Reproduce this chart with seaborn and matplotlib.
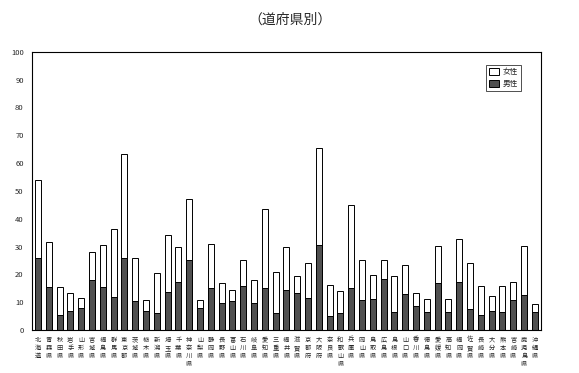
import matplotlib
matplotlib.use("Agg")
import matplotlib.pyplot as plt
import seaborn as sns
import pandas as pd
import numpy as np

# 都道府県（グラフの並び順）
prefectures = [
    "北海道", "青森県", "秋田県", "岩手県", "山形県", "宮城県", "福島県", "群馬県",
    "東京都", "茨城県", "栃木県", "新潟県", "埼玉県", "千葉県", "神奈川県", "山梨県",
    "静岡県", "長野県", "富山県", "石川県", "岐阜県", "愛知県", "三重県", "福井県",
    "滋賀県", "京都府", "大阪府", "奈良県", "和歌山県", "兵庫県", "岡山県", "鳥取県",
    "広島県", "島根県", "山口県", "香川県", "徳島県", "愛媛県", "高知県", "福岡県",
    "佐賀県", "長崎県", "大分県", "熊本県", "宮崎県", "鹿児島県", "沖縄県",
]

# 男性（下段）
male = [
    25.8, 15.6, 5.5, 6.7, 7.8, 18.0, 15.6, 12.0, 25.8, 10.3, 6.7, 6.1, 13.8, 17.4, 25.2, 7.8,
    15.1, 9.7, 10.3, 15.7, 9.7, 15.1, 6.1, 14.5, 13.3, 11.5, 30.5, 5.0, 6.1, 15.2, 10.9, 11.0,
    18.2, 6.4, 12.8, 8.6, 6.4, 16.9, 6.4, 17.1, 7.4, 5.5, 6.9, 6.4, 10.7, 12.5, 6.5,
]

# 合計（女性 + 男性）
total = [
    54.1, 31.6, 15.6, 13.2, 11.4, 28.0, 30.4, 36.4, 63.2, 25.8, 10.8, 20.4, 34.0, 29.8, 47.1, 10.8,
    31.0, 16.8, 14.4, 25.2, 18.0, 43.6, 21.0, 29.9, 19.3, 24.0, 65.6, 16.3, 13.9, 44.8, 25.3, 19.9,
    25.3, 19.3, 23.5, 13.4, 11.0, 30.1, 11.0, 32.6, 24.2, 15.9, 12.3, 15.9, 17.1, 30.2, 9.5,
]

female = [t - m for t, m in zip(total, male)]

df = pd.DataFrame({"pref": prefectures, "male": male, "female": female, "total": total})

sns.set_style("white")
plt.rcParams["font.family"] = ["Noto Sans CJK JP", "DejaVu Sans"]

fig = plt.figure(figsize=(5.79, 3.73), dpi=100)
ax = fig.add_axes([0.0553, 0.1153, 0.8787, 0.7457])

# 女性は男性の上に積み上げ（合計を白で描き、その上に男性を重ねる）
sns.barplot(data=df, x="pref", y="total", order=prefectures, color="white",
            edgecolor="black", linewidth=0.7, width=0.55, ax=ax, label="女性")
sns.barplot(data=df, x="pref", y="male", order=prefectures, color="#505050",
            edgecolor="black", linewidth=0.7, width=0.55, ax=ax, label="男性",
            saturation=1)

ax.set_ylim(0, 100)
ax.set_xlim(-0.55, len(prefectures) - 0.45)
ax.set_yticks(np.arange(0, 101, 10))
ax.tick_params(axis="y", length=0, labelsize=5.5, pad=6)
ax.set_xlabel("")
ax.set_ylabel("")

# カテゴリ境界の目盛り（内向き）
ax.set_xticks(np.arange(len(prefectures)) + 0.5, minor=True)
ax.tick_params(axis="x", which="minor", direction="in", length=2.5, width=0.6)
ax.set_xticks(np.arange(len(prefectures)))
ax.set_xticklabels(["\n".join(p) for p in prefectures], fontsize=4.5, linespacing=1.05,
                   va="top")
ax.tick_params(axis="x", which="major", length=0, pad=4)

for sp in ax.spines.values():
    sp.set_visible(True)
    sp.set_color("black")
    sp.set_linewidth(0.8)

leg = ax.legend(loc="upper right", bbox_to_anchor=(0.961, 0.952), borderaxespad=0,
                fontsize=5.5, frameon=True, fancybox=False, edgecolor="black",
                handlelength=1.3, handleheight=0.9, borderpad=0.4, labelspacing=0.5,
                handletextpad=0.5)
leg.get_frame().set_linewidth(0.6)

fig.text(0.5, 1 - 20 / 373, "（道府県別）", ha="center", va="center", fontsize=10)

fig.savefig("out.png", dpi=100)
